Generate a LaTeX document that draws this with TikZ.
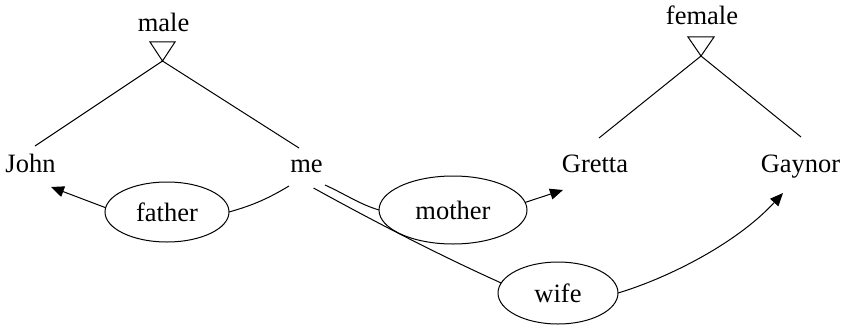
\documentclass[tikz,border=0pt]{standalone}
\usepackage{fontspec}
\setmainfont{Liberation Serif}
\usetikzlibrary{shapes.geometric,arrows.meta,calc}
\begin{document}
\begin{tikzpicture}[x=1pt,y=-1pt,
  every node/.style={font=\fontsize{26.5}{31}\selectfont},
  term/.style={inner sep=0pt, outer sep=0pt, anchor=base},
  relation/.style={ellipse, draw, line width=1pt, inner sep=0pt, outer sep=0pt},
  link/.style={line width=1pt},
  arrowlink/.style={line width=1pt, -{Triangle[length=13pt,width=11pt]}},
  kindmark/.style={line width=1pt, line join=miter}]
\path[use as bounding box] (0,0) rectangle (842,329);

% kinds and people
\node[term] (male)   at (163.5,32) {male};
\node[term] (female) at (702,25)   {female};
\node[term] (John)   at (30.5,172) {John};
\node[term] (me)     at (306.5,172) {me};
\node[term] (Gretta) at (595,172)  {Gretta};
\node[term] (Gaynor) at (800.5,172) {Gaynor};

% relations
\node[relation, minimum width=124pt, minimum height=60pt] (father) at (167,212) {father};
\node[relation, minimum width=148pt, minimum height=68pt] (mother) at (453,210) {mother};
\node[relation, minimum width=120pt, minimum height=62pt] (wife)   at (558,293) {wife};

% open triangles under the kinds
\coordinate (maleapex)   at ($(male.base)+(-1,29)$);
\coordinate (femaleapex) at ($(female.base)+(-1,31)$);
\draw[kindmark] (maleapex) -- ++(-12.5,-19) -- ++(25,0) -- cycle;
\draw[kindmark] (femaleapex) -- ++(-13,-19) -- ++(26,0) -- cycle;

% kind membership
\draw[link] (maleapex) -- ($(John.base)+(4.5,-26)$);
\draw[link] (maleapex) -- ($(me.base)+(-7.5,-24)$);
\draw[link] (femaleapex) -- ($(Gretta.base)+(4,-34)$);
\draw[link] (femaleapex) -- ($(Gaynor.base)+(0.5,-35)$);

% relation edges
\draw[link] ($(me.base)+(-17.5,14)$) .. controls +(-20,12) and +(25,-7) .. (father.east);
\draw[arrowlink] (father.176) -- ($(John.base)+(20.5,15)$);
\draw[link] ($(me.base)+(18.5,13)$) .. controls +(20,9) and +(-20,-6) .. (mother.west);
\draw[arrowlink] (mother.6) -- ($(Gretta.base)+(-32,18)$);
\draw[link] ($(me.base)+(7,16)$) .. controls +(87,48) and +(-40,-18) .. (wife.170);
\draw[arrowlink] (wife.east) .. controls +(47,-14) and +(-48,52) .. ($(Gaynor.base)+(-17.5,21)$);
\end{tikzpicture}
\end{document}
